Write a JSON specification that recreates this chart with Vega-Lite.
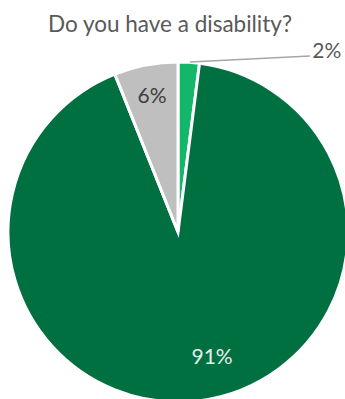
{
  "$schema": "https://vega.github.io/schema/vega-lite/v6.json",
  "autosize": "none",
  "width": 340,
  "height": 340,
  "padding": {"left": 8, "top": 62, "right": 0, "bottom": 0},
  "background": "white",
  "title": {
    "text": "Do you have a disability?",
    "font": "Lato",
    "fontSize": 22.5,
    "fontWeight": "normal",
    "color": "#595959",
    "anchor": "middle",
    "dx": -8,
    "offset": 4
  },
  "config": {"view": {"stroke": null}},
  "datasets": {
    "slices": [
      {"answer": "Yes", "order": 1, "value": 2, "label": "2%"},
      {"answer": "No", "order": 2, "value": 91, "label": "91%"},
      {"answer": "Prefer not to say", "order": 3, "value": 6, "label": "6%"}
    ],
    "leader": [
      {"px": 0.07, "py": 1.0, "seg": 1},
      {"px": 0.776, "py": 1.035, "seg": 2}
    ],
    "outside": [
      {"px": 0.79, "py": 1.06, "label": "2%"}
    ]
  },
  "layer": [
    {
      "data": {"name": "slices"},
      "mark": {"type": "arc", "stroke": "white", "strokeWidth": 3},
      "encoding": {
        "theta": {"field": "value", "type": "quantitative", "stack": true, "scale": {"domain": [0, 99]}},
        "order": {"field": "order", "type": "quantitative"},
        "color": {
          "field": "answer",
          "type": "nominal",
          "scale": {"domain": ["Yes", "No", "Prefer not to say"], "range": ["#12B76A", "#007041", "#BFBFBF"]},
          "legend": null
        }
      }
    },
    {
      "data": {"name": "slices"},
      "transform": [
        {"stack": "value", "sort": [{"field": "order"}], "groupby": [], "as": ["s0", "s1"]},
        {"calculate": "(datum.s0 + datum.s1) / 2", "as": "mid"},
        {"filter": "datum.answer === 'No'"}
      ],
      "mark": {"type": "text", "radius": 131, "thetaOffset": -0.136, "font": "Lato", "fontSize": 21, "color": "#E6EDE9"},
      "encoding": {
        "theta": {"field": "mid", "type": "quantitative", "stack": null},
        "text": {"field": "label"}
      }
    },
    {
      "data": {"name": "slices"},
      "transform": [
        {"stack": "value", "sort": [{"field": "order"}], "groupby": [], "as": ["s0", "s1"]},
        {"calculate": "(datum.s0 + datum.s1) / 2", "as": "mid"},
        {"filter": "datum.answer === 'Prefer not to say'"}
      ],
      "mark": {"type": "text", "radius": 137, "font": "Lato", "fontSize": 21, "color": "#404040"},
      "encoding": {
        "theta": {"field": "mid", "type": "quantitative", "stack": null},
        "text": {"field": "label"}
      }
    },
    {
      "data": {"name": "leader"},
      "mark": {"type": "line", "color": "#A6A6A6", "strokeWidth": 1.5},
      "encoding": {
        "x": {"field": "px", "type": "quantitative", "scale": {"domain": [-1, 1]}, "axis": null},
        "y": {"field": "py", "type": "quantitative", "scale": {"domain": [-1, 1]}, "axis": null},
        "order": {"field": "seg"}
      }
    },
    {
      "data": {"name": "outside"},
      "mark": {"type": "text", "align": "left", "baseline": "middle", "font": "Lato", "fontSize": 21, "color": "#595959"},
      "encoding": {
        "x": {"field": "px", "type": "quantitative", "scale": {"domain": [-1, 1]}, "axis": null},
        "y": {"field": "py", "type": "quantitative", "scale": {"domain": [-1, 1]}, "axis": null},
        "text": {"field": "label"}
      }
    }
  ]
}
